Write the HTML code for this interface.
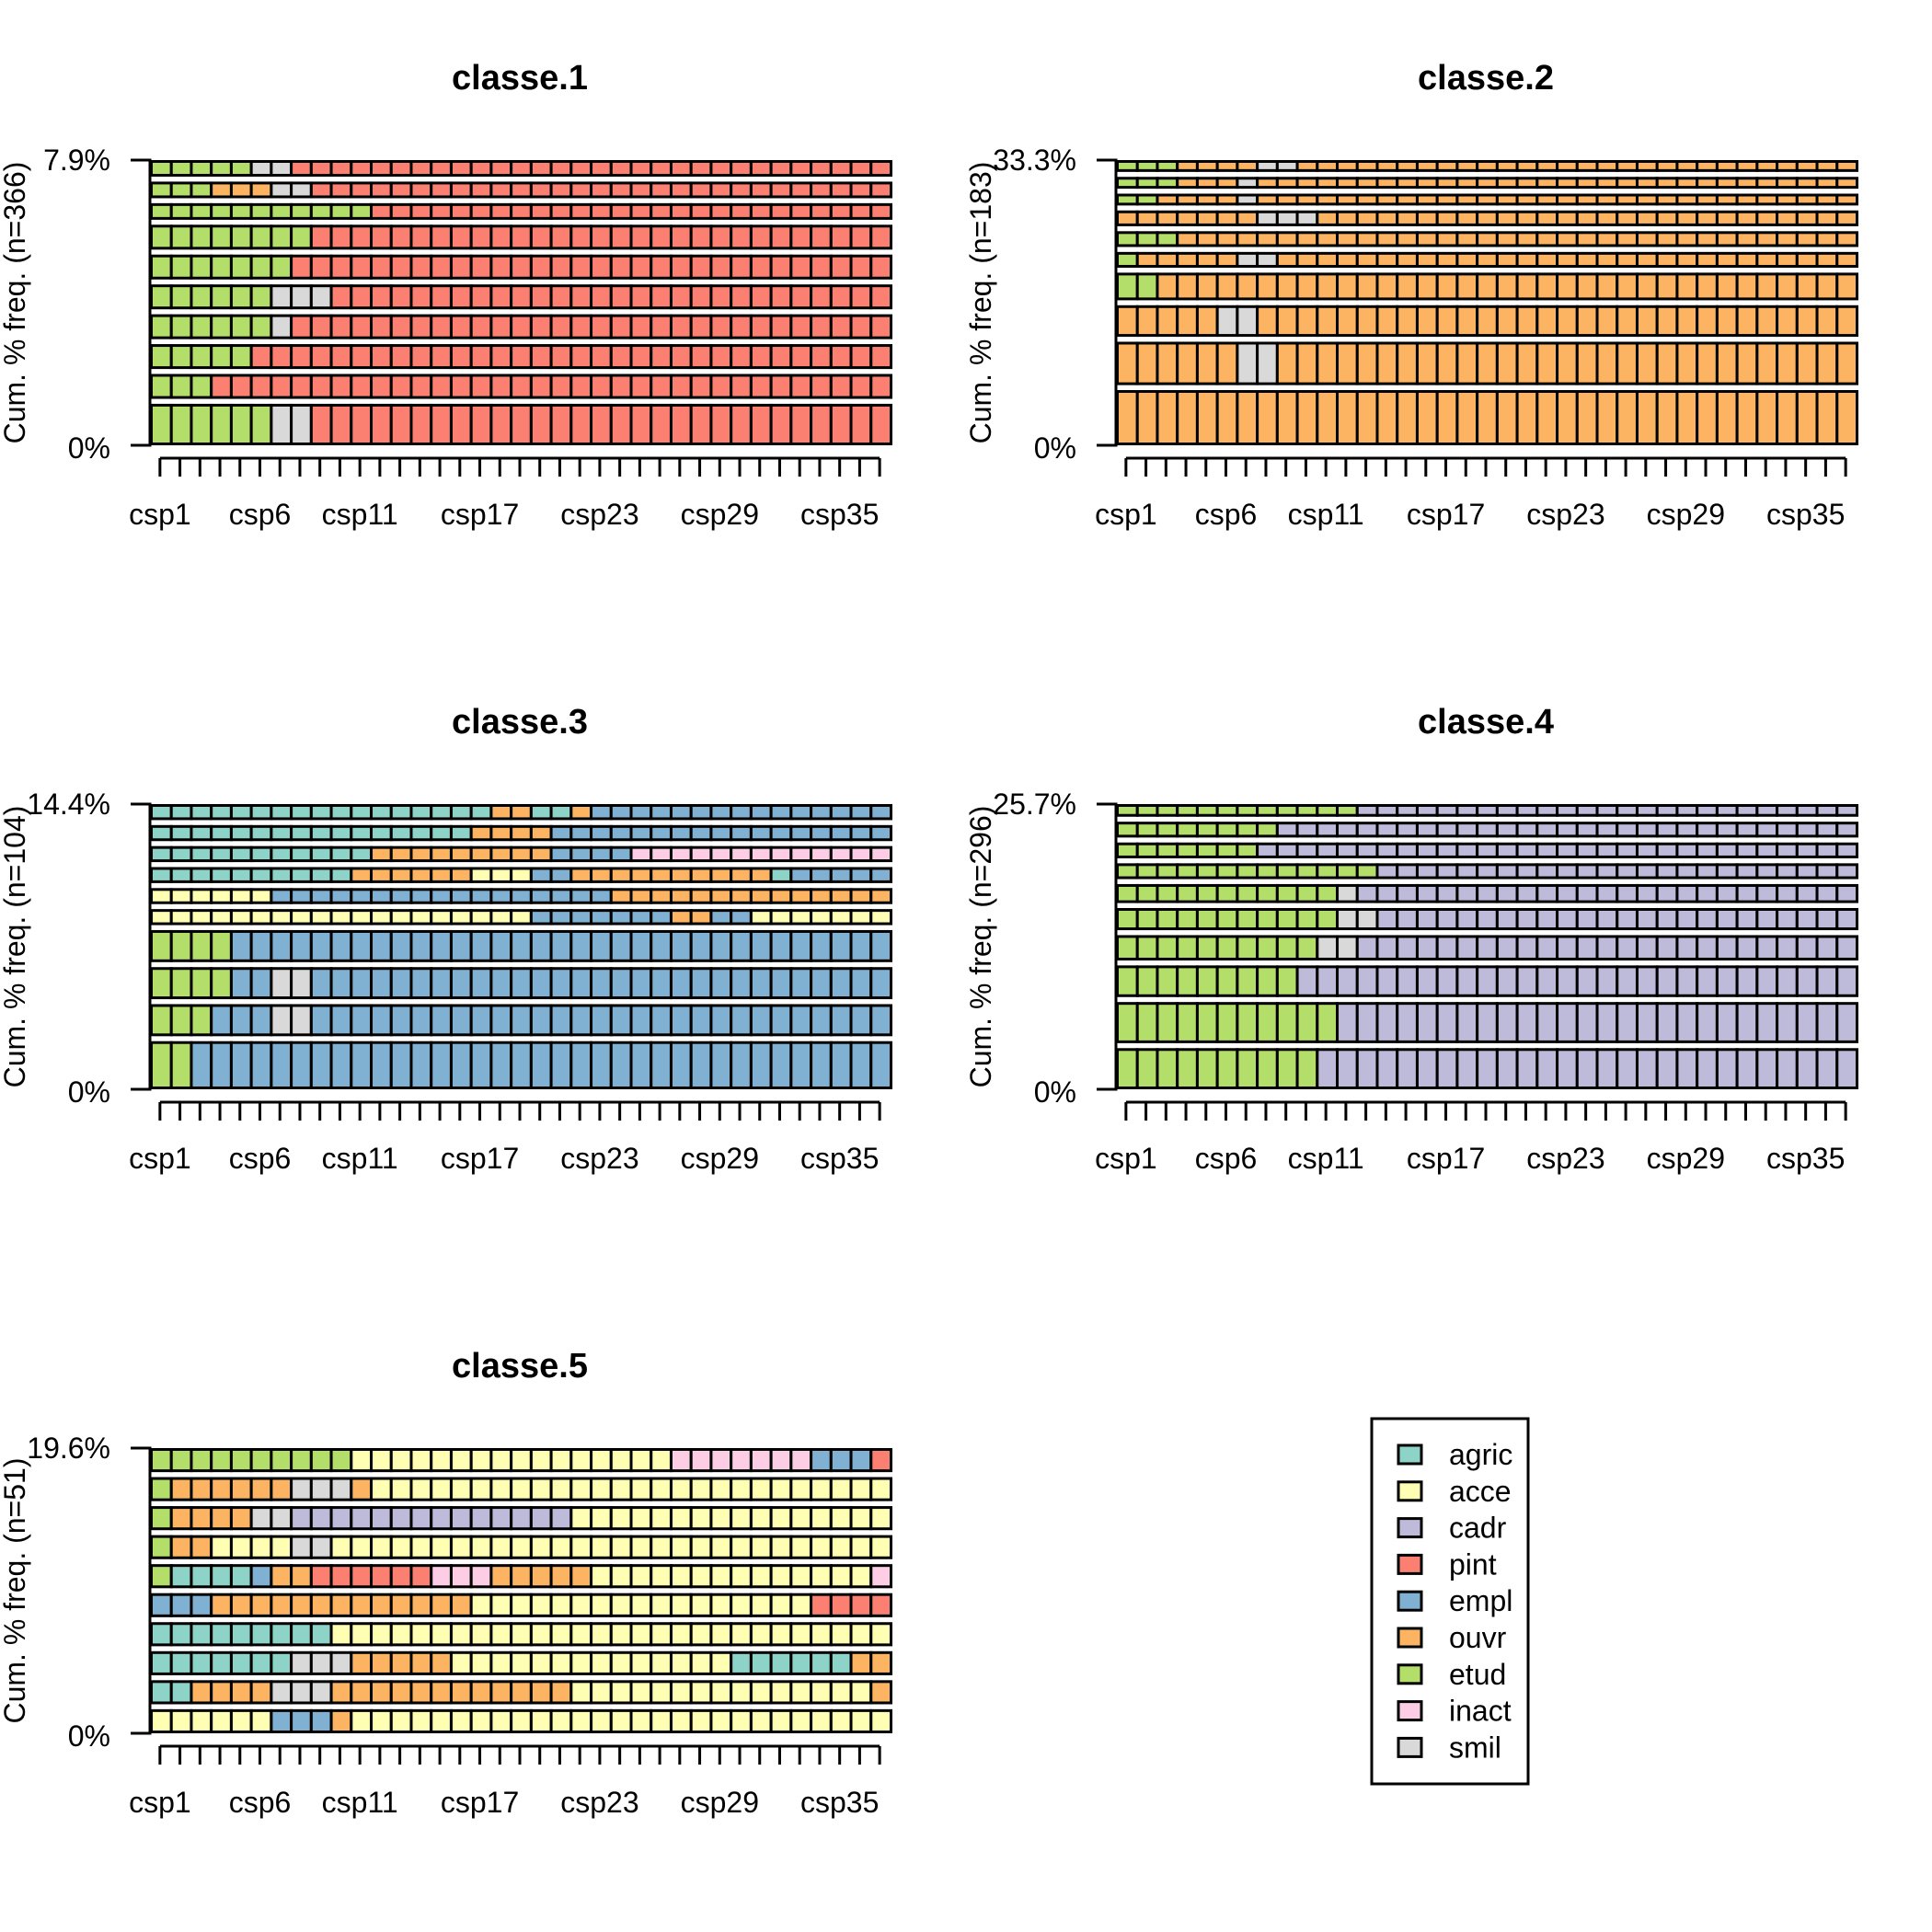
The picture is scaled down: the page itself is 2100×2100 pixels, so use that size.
<!DOCTYPE html>
<html><head><meta charset="utf-8"><title>Sequence frequency plots</title>
<style>html,body{margin:0;padding:0;background:#fff}svg{display:block}text{font-family:"Liberation Sans",Arial,sans-serif;fill:#000}</style>
</head><body>
<svg id="chart" xmlns="http://www.w3.org/2000/svg" width="2100" height="2100" viewBox="0 0 2100 2100"></svg>
<script>
const stateNames = ["agric","acce","cadr","pint","empl","ouvr","etud","inact","smil"];
const stateColors = ["#8DD3C7","#FFFFB3","#BEBADA","#FB8072","#80B1D3","#FDB462","#B3DE69","#FCCDE5","#D9D9D9"];
const tickLabels = ["csp1","csp6","csp11","csp17","csp23","csp29","csp35"];
const tickLabelPositions = [1,6,11,17,23,29,35];
const nCols = 37;
const panelTitles = ["classe.1","classe.2","classe.3","classe.4","classe.5"];
const panelN = [366,183,104,296,51];
const panelTopPct = ["7.9%","33.3%","14.4%","25.7%","19.6%"];
// sequences listed top row to bottom row, run-length encoded
const seqClasse1 = ["etud:5,smil:2,pint:30","etud:3,ouvr:3,smil:2,pint:29","etud:11,pint:26","etud:8,pint:29","etud:7,pint:30","etud:6,smil:3,pint:28","etud:6,smil:1,pint:30","etud:5,pint:32","etud:3,pint:34","etud:6,smil:2,pint:29"];
const wClasse1 = [2,2,2,3,3,3,3,3,3,5];
const seqClasse2 = ["etud:3,ouvr:4,smil:2,ouvr:28","etud:3,ouvr:3,smil:1,ouvr:30","etud:2,ouvr:4,smil:1,ouvr:30","ouvr:7,smil:3,ouvr:27","etud:3,ouvr:34","etud:1,ouvr:5,smil:2,ouvr:29","etud:2,ouvr:35","ouvr:5,smil:2,ouvr:30","ouvr:6,smil:2,ouvr:29","ouvr:37"];
const wClasse2 = [3,3,3,4,4,4,7,8,11,14];
const seqClasse3 = ["agric:17,ouvr:2,agric:2,ouvr:1,empl:15","agric:16,ouvr:4,empl:17","agric:11,ouvr:9,empl:4,inact:13","agric:10,ouvr:6,acce:3,empl:2,ouvr:10,agric:1,empl:5","acce:6,empl:17,ouvr:14","acce:19,empl:7,ouvr:2,empl:2,acce:7","etud:4,empl:33","etud:4,empl:2,smil:2,empl:29","etud:3,empl:3,smil:2,empl:29","etud:2,empl:35"];
const wClasse3 = [1,1,1,1,1,1,2,2,2,3];
const seqClasse4 = ["etud:12,cadr:25","etud:8,cadr:29","etud:7,cadr:30","etud:13,cadr:24","etud:11,smil:1,cadr:25","etud:11,smil:2,cadr:24","etud:10,smil:2,cadr:25","etud:9,cadr:28","etud:11,cadr:26","etud:10,cadr:27"];
const wClasse4 = [4,5,5,5,6,7,8,10,13,13];
const seqClasse5 = ["etud:10,acce:16,inact:7,empl:3,pint:1","etud:1,ouvr:6,smil:3,ouvr:1,acce:26","etud:1,ouvr:4,smil:2,cadr:14,acce:16","etud:1,ouvr:2,acce:4,smil:2,acce:28","etud:1,agric:4,empl:1,ouvr:2,pint:6,inact:3,ouvr:5,acce:14,inact:1","empl:3,ouvr:13,acce:17,pint:4","agric:9,acce:28","agric:7,smil:3,ouvr:5,acce:14,agric:6,ouvr:2","agric:2,ouvr:4,smil:3,ouvr:12,acce:15,ouvr:1","acce:6,empl:3,ouvr:1,acce:27"];
const wClasse5 = [1,1,1,1,1,1,1,1,1,1];

const panelSeqs = [seqClasse1,seqClasse2,seqClasse3,seqClasse4,seqClasse5];
const panelWeights = [wClasse1,wClasse2,wClasse3,wClasse4,wClasse5];

const NS = "http://www.w3.org/2000/svg";
const svg = document.getElementById('chart');
function mk(tag, attrs, parent){const e=document.createElementNS(NS,tag);for(const k in attrs)e.setAttribute(k,attrs[k]);(parent||svg).appendChild(e);return e;}

const PW = 804, PH = 310, GAP = 5.4;
panelSeqs.forEach((seqs, p) => {
  const ox = 163 + (p % 2) * 1050;
  const oy = 174 + Math.floor(p / 2) * 700;
  const g = mk('g', {});
  
  
  const cw = PW / nCols;
  const xScale = c => ox + c * cw;
  const w = panelWeights[p];
  const total = w.reduce((a, b) => a + b, 0);
  const k = (PH - GAP * (seqs.length - 1)) / total;
  // title
  const t = mk('text', {x: ox + PW / 2, y: oy - 77, 'text-anchor': 'middle', 'font-size': 38, 'font-weight': 'bold'}, g);
  t.textContent = panelTitles[p];
  
  
  // y title
  const yt = mk('text', {x: 0, y: 0, 'text-anchor': 'middle', 'font-size': 32, transform: `translate(${ox - 136},${oy + PH / 2}) rotate(-90)`}, g);
  yt.textContent = `Cum. % freq. (n=${panelN[p]})`;
  
  
  // rows, bottom row last in array -> draw from top
  let y = oy;
  seqs.forEach((s, r) => {
    const h = w[r] * k;
    let col = 0;
    s.split(',').forEach(run => {
      const [st, n] = run.split(':');
      const si = stateNames.indexOf(st);
      for (let i = 0; i < +n; i++) {
        const rc = mk('rect', {x: xScale(col) + 1.5, y: y + 1.5, width: cw, height: h - 3, fill: stateColors[si], stroke: '#000', 'stroke-width': 3}, g);
        
        
        col++;
      }
    });
    y += h + GAP;
  });
  // y axis
  const ya = mk('path', {d: `M${ox - 21},${oy}H${ox}V${oy + PH}H${ox - 21}`, fill: 'none', stroke: '#000', 'stroke-width': 3}, g);
  
  
  const yl1 = mk('text', {x: ox - 43, y: oy + 11, 'text-anchor': 'end', 'font-size': 32}, g);
  yl1.textContent = panelTopPct[p];
  
  
  const yl0 = mk('text', {x: ox - 43, y: oy + PH + 14, 'text-anchor': 'end', 'font-size': 32}, g);
  yl0.textContent = '0%';
  
  
  // x axis
  const ax0 = xScale(0.5), ax1 = xScale(nCols - 0.5), ay = oy + PH + 14;
  let d = `M${ax0},${ay}H${ax1}`;
  for (let i = 0; i < nCols; i++) d += `M${xScale(i + 0.5)},${ay}V${ay + 20}`;
  const xa = mk('path', {d, fill: 'none', stroke: '#000', 'stroke-width': 3}, g);
  
  
  tickLabels.forEach((lab, i) => {
    const tl = mk('text', {x: xScale(tickLabelPositions[i] - 0.5), y: oy + PH + 86, 'text-anchor': 'middle', 'font-size': 32}, g);
    tl.textContent = lab;
    
    
  });
});

// legend
const lg = mk('g', {});


const lb = mk('rect', {x: 1491, y: 1542, width: 170, height: 397, fill: 'none', stroke: '#000', 'stroke-width': 3}, lg);


stateNames.forEach((s, i) => {
  const yy = 1571 + i * 39.8;
  const sw = mk('rect', {x: 1520, y: yy, width: 25, height: 20, fill: stateColors[i], stroke: '#000', 'stroke-width': 3}, lg);
  
  
  const lt = mk('text', {x: 1575, y: yy + 21, 'font-size': 32}, lg);
  lt.textContent = s;
  
  
});
</script>
</body></html>
